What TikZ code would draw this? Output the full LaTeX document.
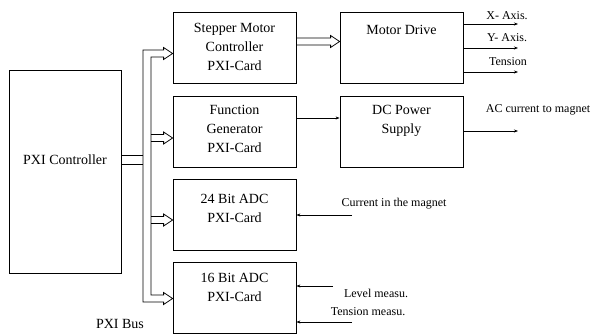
\documentclass[tikz,border=0pt]{standalone}
\usepackage{fontspec}
\setmainfont{Liberation Serif}
\usetikzlibrary{arrows.meta}
\tikzset{
    caja/.style={draw, line width=0.8pt, inner sep=0pt},
    grande/.style={font=\fontsize{14}{19}\selectfont, align=center},
    chica/.style={font=\fontsize{12}{14}\selectfont},
    bus/.style={line width=0.8pt, line join=miter},
    senal/.style={line width=0.8pt, -{Stealth[length=4pt, width=3pt]}}
}
% flecha doble del bus entre dos coordenadas
\newcommand{\flechabus}[2]{%
    \draw[bus] ([yshift=3.5pt]#1) -- ([xshift=-9pt,yshift=3.5pt]#2) -- ([xshift=-9pt,yshift=6pt]#2)
        -- (#2) -- ([xshift=-9pt,yshift=-6pt]#2) -- ([xshift=-9pt,yshift=-3.5pt]#2) -- ([yshift=-3.5pt]#1);}
\begin{document}
\begin{tikzpicture}[x=1pt, y=-1pt]
    \useasboundingbox (0,0) rectangle (593,334);
    % Bloques
    \node[caja, minimum width=112pt, minimum height=203pt] (pxi) at (65,171.5) {};
    \node[caja, minimum width=123pt, minimum height=71pt] (smc) at (234.5,47.5) {};
    \node[caja, minimum width=123pt, minimum height=71pt] (fg) at (234.5,131.5) {};
    \node[caja, minimum width=123pt, minimum height=71pt] (adca) at (234.5,214.5) {};
    \node[caja, minimum width=123pt, minimum height=71pt] (adcb) at (234.5,297.5) {};
    \node[caja, minimum width=123pt, minimum height=71pt] (md) at (401.5,47.5) {};
    \node[caja, minimum width=123pt, minimum height=71pt] (dc) at (401.5,131.5) {};
    % Textos de los bloques
    \node[grande] at (65,160) {PXI Controller};
    \node[grande] at (234.5,46.5) {Stepper Motor\\Controller\\PXI-Card};
    \node[grande] at (234.5,129) {Function\\Generator\\PXI-Card};
    \node[grande] at (234.5,208) {24 Bit ADC\\PXI-Card};
    \node[grande] at (234.5,287) {16 Bit ADC\\PXI-Card};
    \node[grande] at (401.5,30) {Motor Drive};
    \node[grande] at (401.5,121) {DC Power\\Supply};
    \node[grande] at (120,324) {PXI Bus};
    % Bus PXI
    \coordinate (bsup) at (smc.west |- 0,53.5);
    \coordinate (binf) at (adcb.west |- 0,298.5);
    \draw[bus] (143,50) -- ([xshift=-9pt,yshift=3.5pt]bsup) -- ([xshift=-9pt,yshift=6pt]bsup) -- (bsup)
        -- ([xshift=-9pt,yshift=-6pt]bsup) -- ([xshift=-9pt,yshift=-3.5pt]bsup) -- (151,57)
        -- (151,295) -- ([xshift=-9pt,yshift=3.5pt]binf) -- ([xshift=-9pt,yshift=6pt]binf) -- (binf)
        -- ([xshift=-9pt,yshift=-6pt]binf) -- ([xshift=-9pt,yshift=-3.5pt]binf) -- (143,302) -- cycle;
    \coordinate (bfg) at (151,138);
    \coordinate (fgin) at (fg.west |- bfg);
    \coordinate (badc) at (151,220);
    \coordinate (adcin) at (adca.west |- badc);
    \flechabus{bfg}{fgin}
    \flechabus{badc}{adcin}
    \coordinate (smcout) at (smc.east |- 0,41.5);
    \coordinate (mdin) at (md.west |- 0,41.5);
    \flechabus{smcout}{mdin}
    % Enlace del controlador
    \draw[bus] (pxi.east |- 0,155) -- (143,155);
    \draw[bus] (pxi.east |- 0,164) -- (143,164);
    % Salidas
    \coordinate (ejex) at (518,24);
    \coordinate (ejey) at (518,48);
    \coordinate (tens) at (518,72);
    \coordinate (ac) at (518,131);
    \draw[senal] (md.east |- ejex) -- (ejex);
    \draw[senal] (md.east |- ejey) -- (ejey);
    \draw[senal] (md.east |- tens) -- (tens);
    \draw[senal] (dc.east |- ac) -- (ac);
    \draw[senal] (fg.east |- 0,118) -- (dc.west |- 0,118);
    \node[chica] at (507,16) {X- Axis.};
    \node[chica] at (507,38) {Y- Axis.};
    \node[chica] at (508,62) {Tension};
    \node[chica] at (538,110) {AC current to magnet};
    % Entradas
    \coordinate (corr) at (352,215);
    \coordinate (nivel) at (333,286);
    \coordinate (tmed) at (352,322);
    \draw[senal] (corr) -- (adca.east |- corr);
    \draw[senal] (nivel) -- (adcb.east |- nivel);
    \draw[senal] (tmed) -- (adcb.east |- tmed);
    \node[chica] at (394,204) {Current in the magnet};
    \node[chica] at (376,293) {Level measu.};
    \node[chica] at (368,312) {Tension measu.};
\end{tikzpicture}
\end{document}
